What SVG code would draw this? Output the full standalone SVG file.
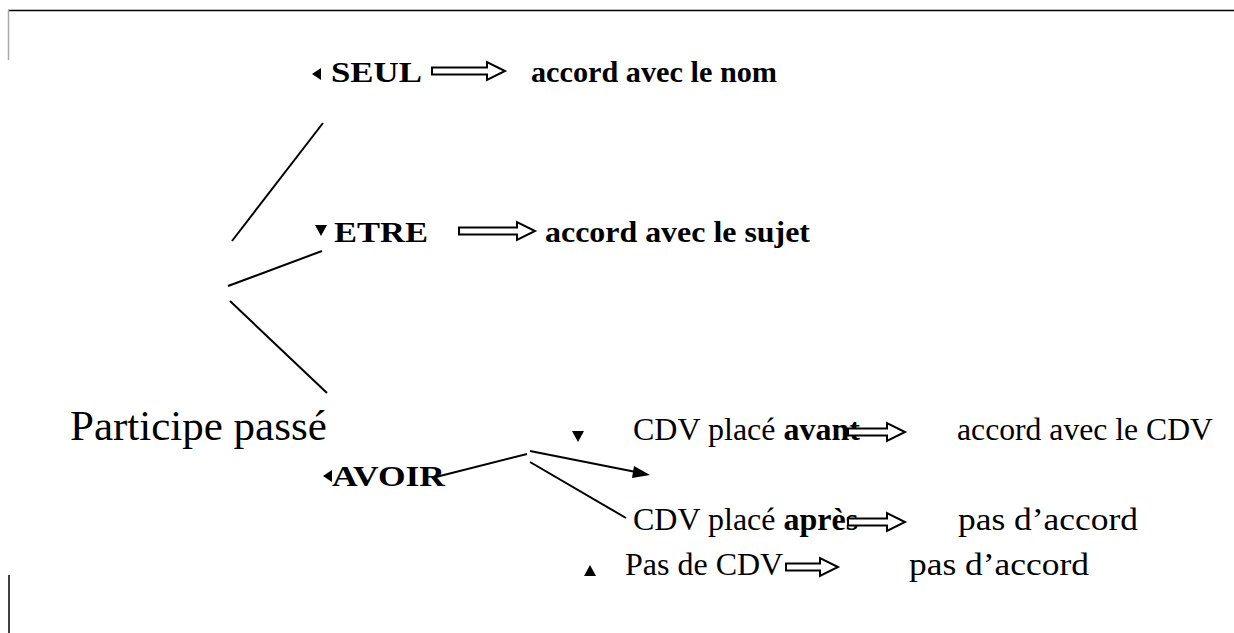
<svg xmlns="http://www.w3.org/2000/svg" width="1234" height="633" viewBox="0 0 1234 633">
<style>
.b{font-family:"Liberation Serif","Times New Roman",serif;font-weight:bold;font-size:30px;fill:#000}
.r{font-family:"Liberation Serif","Times New Roman",serif;font-size:32px;fill:#000}
.rb{font-family:"Liberation Serif","Times New Roman",serif;font-weight:bold;font-size:32px;fill:#000}
.big{font-family:"Liberation Serif","Times New Roman",serif;font-size:43px;fill:#000}
.dbl{fill:#fff;stroke:#000;stroke-width:2}
.ln{stroke:#000;stroke-width:2;fill:none}
.tri{fill:#000}
</style>
<rect width="1234" height="633" fill="#fff"/>
<g id="frame">
<line x1="8" y1="10.5" x2="1234" y2="10.5" stroke="#000" stroke-width="1.5"/>
<line x1="8.5" y1="10" x2="8.5" y2="60" stroke="#aaa" stroke-width="1.5"/>
<line x1="9" y1="575" x2="9" y2="633" stroke="#000" stroke-width="1.5"/>
</g>
<g id="connectors">
<line class="ln" x1="323" y1="123" x2="232" y2="241"/>
<line class="ln" x1="322" y1="251" x2="228" y2="286"/>
<line class="ln" x1="230" y1="301" x2="327" y2="393"/>
<line class="ln" x1="432" y1="478" x2="527" y2="454"/>
<line class="ln" x1="530" y1="451" x2="636" y2="472"/>
<path d="M650,475 L634,466 L632,478 Z" fill="#000"/>
<line class="ln" x1="530" y1="462" x2="626" y2="518"/>
</g>
<g id="node-participe">
<text class="big" x="70" y="440">Participe passé</text>
</g>
<g id="node-seul">
<polygon class="tri" points="312,74 321,68 321,80"/>
<text class="b" x="331" y="82" textLength="91" lengthAdjust="spacingAndGlyphs">SEUL</text>
<polygon class="dbl" points="432,67.5 487,67.5 487,62 505,71 487,80 487,74.5 432,74.5"/>
<text class="b" x="531" y="82" textLength="246" lengthAdjust="spacingAndGlyphs">accord avec le nom</text>
</g>
<g id="node-etre">
<polygon class="tri" points="315,225 327,225 321,236"/>
<text class="b" x="334" y="242" textLength="94" lengthAdjust="spacingAndGlyphs">ETRE</text>
<polygon class="dbl" points="459,227.5 517,227.5 517,222 535,231 517,240 517,234.5 459,234.5"/>
<text class="b" x="545" y="242" textLength="265" lengthAdjust="spacingAndGlyphs">accord avec le sujet</text>
</g>
<g id="node-avoir">
<polygon class="tri" points="323,476 332,470 332,482"/>
<text class="b" x="332" y="486" textLength="113" lengthAdjust="spacingAndGlyphs">AVOIR</text>
</g>
<g id="node-avant">
<polygon class="tri" points="572,431 584,431 578,442"/>
<text class="r" x="633" y="440">CDV placé <tspan class="rb">avant</tspan></text>
<polygon class="dbl" points="848,428.5 887,428.5 887,423 905,432 887,441 887,435.5 848,435.5"/>
<text class="r" x="957" y="440" textLength="256" lengthAdjust="spacingAndGlyphs">accord avec le CDV</text>
</g>
<g id="node-apres">
<text class="r" x="633" y="530">CDV placé <tspan class="rb">après</tspan></text>
<polygon class="dbl" points="848,518.5 887,518.5 887,513 905,522 887,531 887,525.5 848,525.5"/>
<text class="r" x="958" y="530" textLength="180" lengthAdjust="spacingAndGlyphs">pas d’accord</text>
</g>
<g id="node-pasde">
<polygon class="tri" points="584,576 596,576 590,565"/>
<text class="r" x="625" y="575">Pas de CDV</text>
<polygon class="dbl" points="786,563.5 820,563.5 820,558 838,567 820,576 820,570.5 786,570.5"/>
<text class="r" x="909" y="575" textLength="180" lengthAdjust="spacingAndGlyphs">pas d’accord</text>
</g>
</svg>
